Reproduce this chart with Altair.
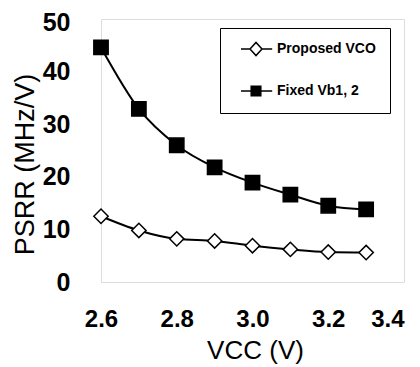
import altair as alt
import pandas as pd

vcc = [2.6, 2.7, 2.8, 2.9, 3.0, 3.1, 3.2, 3.3]
proposed = [12.5, 9.8, 8.2, 7.8, 6.9, 6.2, 5.7, 5.6]
fixed = [44.6, 32.9, 26.0, 21.8, 18.9, 16.6, 14.5, 13.8]
series_names = ["Proposed VCO", "Fixed Vb1, 2"]
x_ticks = [2.6, 2.8, 3.0, 3.2, 3.4]
y_ticks = [0, 10, 20, 30, 40, 50]

rows = []
for name, vals in zip(series_names, [proposed, fixed]):
    for v, p in zip(vcc, vals):
        rows.append({"vcc": v, "psrr": p, "series": name})
df = pd.DataFrame(rows)

FONT = "Liberation Sans"

x_enc = alt.X("vcc:Q", scale=alt.Scale(domain=[2.6, 3.4], nice=False, zero=False),
              axis=alt.Axis(values=x_ticks, format=".1f", title="VCC (V)", grid=False,
                            domain=False, ticks=False, labelFont=FONT, labelFontSize=24,
                            labelFontWeight="bold", labelColor="black", labelPadding=25,
                            labelOverlap=False, labelFlush=False,
                            labelAlign=alt.expr("datum.value >= 3.35 ? 'right' : 'center'"),
                            titleFont=FONT, titleFontSize=26, titleFontWeight="normal",
                            titleColor="black", titleX=154, titleY=68, titleBaseline="middle",
                            titleAlign="center"))
y_enc = alt.Y("psrr:Q", scale=alt.Scale(domain=[0, 50], nice=False),
              axis=alt.Axis(values=y_ticks, title="PSRR (MHz/V)", grid=False,
                            domain=False, ticks=False, labelFont=FONT, labelFontSize=25,
                            labelFontWeight="bold", labelColor="black", labelPadding=31,
                            labelOffset=alt.expr("datum.value >= 50 ? 3 : 0"),
                            titleFont=FONT, titleFontSize=27, titleFontWeight="normal",
                            titleColor="black", titleX=-76, titleY=145, titleBaseline="middle",
                            titleAlign="center", titleAngle=-90))

base = alt.Chart(df)

lines = base.mark_line(color="black", strokeWidth=2, interpolate="monotone").encode(
    x=x_enc, y=y_enc, detail="series:N"
)

points = base.mark_point(stroke="black", strokeWidth=1.5, opacity=1, size=205).encode(
    x=x_enc, y=y_enc,
    shape=alt.Shape("series:N", scale=alt.Scale(domain=series_names, range=["diamond", "square"]), legend=None),
    fill=alt.Fill("series:N", scale=alt.Scale(domain=series_names, range=["white", "black"]), legend=None),
)

# legend glyphs: line segment with marker, shifted right inside the symbol slot
diamond_path = "M0,0L1.5,0M1.5,0L2.5,-1.1L3.5,0L2.5,1.1Z M3.5,0L5.2,0"
square_path = "M0,0L1.7,0M1.7,-0.8L3.3,-0.8L3.3,0.8L1.7,0.8Z M3.3,0L5.2,0"


def leg():
    return alt.Legend(title=None, orient="none", legendX=119, legendY=9,
                      labelFont=FONT, labelFontSize=14, labelFontWeight="bold",
                      labelColor="black", symbolSize=144, symbolStrokeWidth=1.5,
                      symbolStrokeColor="black", symbolOpacity=1, labelOffset=29,
                      rowPadding=24, padding=14, strokeColor="black",
                      fillColor="white")


legend_layer = base.transform_filter("datum.psrr < -1").mark_point(
    strokeWidth=1.5, opacity=1, size=144
).encode(
    x=x_enc, y=y_enc,
    shape=alt.Shape("series:N", scale=alt.Scale(domain=series_names, range=[diamond_path, square_path]),
                    legend=leg()),
    fill=alt.Fill("series:N", scale=alt.Scale(domain=series_names, range=["white", "black"]),
                  legend=leg()),
    stroke=alt.Stroke("series:N", scale=alt.Scale(domain=series_names, range=["black", "black"]),
                      legend=leg()),
)

chart = alt.layer(lines, points, legend_layer).resolve_scale(
    shape="independent", fill="independent", stroke="independent"
).properties(
    width=303, height=263,
    autosize=alt.AutoSizeParams(type="none"),
    padding={"left": 93, "top": 11, "right": 8, "bottom": 85},
).configure_view(
    stroke="black", strokeWidth=2.5
).configure(background="white")

chart.save("out.html", embed_options={"renderer": "svg", "actions": False})
